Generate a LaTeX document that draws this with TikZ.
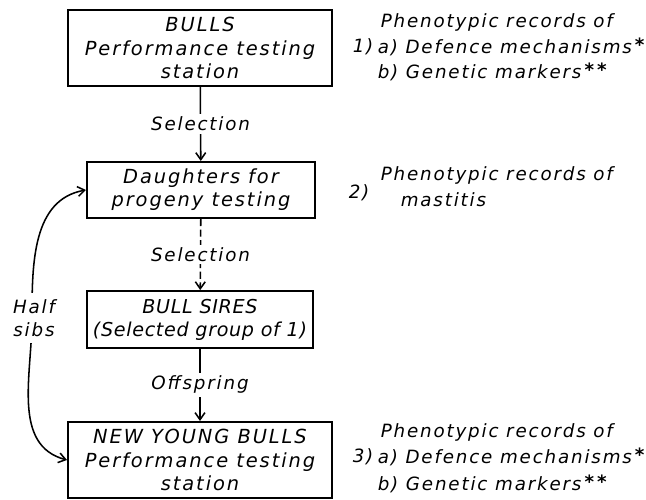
\documentclass[tikz,border=0pt]{standalone}
\usepackage{fontspec}
\setmainfont{DejaVu Sans}[LetterSpace=10]
\usetikzlibrary{arrows.meta}

\newcommand{\recstar}{\,\raisebox{1.5pt}{\bfseries*}}

\tikzset{
    box/.style={draw, line width=1.4pt, align=center, inner sep=0pt,
        font=\fontsize{13.8}{16.5}\selectfont\itshape},
    lbl/.style={fill=white, inner sep=2pt},
    txt/.style={anchor=west, inner sep=0pt}
}

\begin{document}
\begin{tikzpicture}[x=0.025cm, y=-0.025cm, font=\fontsize{13}{16}\selectfont\itshape,
    >={Straight Barb[length=5pt, width=7pt]}, line width=1.1pt]
    \useasboundingbox (0,0) rectangle (646,500);

    \node[box, minimum width=6.6cm, minimum height=1.9cm] (bulls) at (200,48)
        {BULLS\\Performance testing\\station};
    \node[box, minimum width=5.7cm, minimum height=1.4cm] (daughters) at (201,190)
        {Daughters for\\progeny testing};
    \node[box, minimum width=5.65cm, minimum height=1.42cm,
        font=\fontsize{13.6}{16.5}\selectfont\itshape\addfontfeature{LetterSpace=3.5}] (sires) at (200,319.5)
        {BULL SIRES\\(Selected group of 1)};
    \node[box, minimum width=6.6cm, minimum height=1.9cm] (newbulls) at (200,460)
        {NEW YOUNG BULLS\\Performance testing\\station};

    \draw[->] (bulls) -- node[lbl] {Selection} (daughters);
    \draw[->, dash pattern=on 5pt off 2.5pt] (daughters) -- node[lbl] {Selection} (sires);
    \draw[->] (sires) -- node[lbl] {Offspring} (newbulls);

    \coordinate (sibs) at (32,318);
    \draw[<->] (daughters.west) to[out=190, in=90] (sibs) to[out=-90, in=165] (newbulls.west);
    \node[lbl, align=center, inner ysep=5pt] (halfsibs) at (34,318) {Half\\sibs};

    % records
    \node[txt] (rec1) at (380,22) {Phenotypic records of};
    \node[txt] (num1) at (352,47) {1)};
    \node[txt] (def1) at (377,47) {a) Defence mechanisms\recstar};
    \node[txt] (gen1) at (377,72) {b) Genetic markers\recstar\recstar};

    \node[txt] (rec2) at (380,175) {Phenotypic records of};
    \node[txt] (num2) at (348,193) {2)};
    \node[txt] (mast) at (400,200) {mastitis};

    \node[txt] (rec3) at (380,432) {Phenotypic records of};
    \node[txt] (num3) at (352,457) {3)};
    \node[txt] (def3) at (377,457) {a) Defence mechanisms\recstar};
    \node[txt] (gen3) at (377,484) {b) Genetic markers\recstar\recstar};
\end{tikzpicture}
\end{document}
